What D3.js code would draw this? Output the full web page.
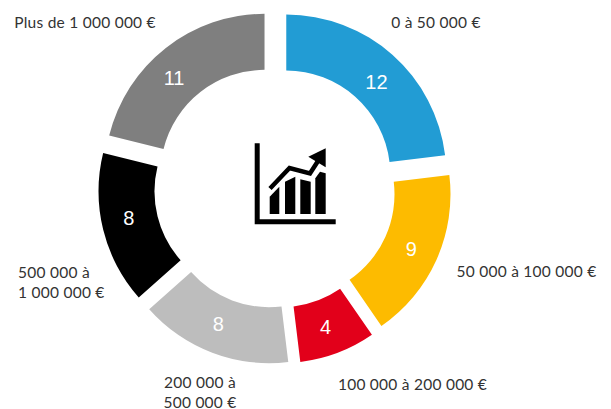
<!DOCTYPE html>
<html><head><meta charset="utf-8">
<script src="https://cdn.jsdelivr.net/npm/d3@7"></script>
<style>html,body{margin:0;padding:0;background:#fff}svg{display:block}</style>
</head><body><svg id="c" width="611" height="409"></svg>
<script>
const categories = ["0 à 50 000 €","50 000 à 100 000 €","100 000 à 200 000 €","200 000 à 500 000 €","500 000 à 1 000 000 €","Plus de 1 000 000 €"];
const counts = [12, 9, 4, 8, 8, 11];
const colors = ["#229cd4","#fdbb00","#e2001a","#bdbdbd","#000000","#7f7f7f"];
const labelLines = [["0 à 50 000 €"],["50 000 à 100 000 €"],["100 000 à 200 000 €"],["200 000 à","500 000 €"],["500 000 à","1 000 000 €"],["Plus de 1 000 000 €"]];

const svg = d3.select("#c");
const cx = 275, cy = 187.25, R = 160, r = 104, explode = 17;
const g = svg.append("g").attr("transform", `translate(${cx},${cy})`);
const pie = d3.pie().sort(null).value(d => d.count);
const arc = d3.arc().innerRadius(r).outerRadius(R);
const arcs = pie(categories.map((c, i) => ({c, count: counts[i], color: colors[i]})));
const mid = d => (d.startAngle + d.endAngle) / 2;
g.selectAll("path").data(arcs).join("path").attr("d", arc).attr("fill", d => d.data.color)
  .attr("transform", d => `translate(${explode*Math.sin(mid(d))},${-explode*Math.cos(mid(d))})`);

const labelShift = [2.1, -0.4, 0.7, 1.9, 2.6, -4.2];
const labelRadius = [147, 149, 147, 147, 149, 150];
g.selectAll("text.v").data(arcs).join("text").attr("class","v")
  .attr("x", (d,i) => labelRadius[i] * Math.sin(mid(d) + labelShift[i]*Math.PI/180))
  .attr("y", (d,i) => 1.25 - labelRadius[i] * Math.cos(mid(d) + labelShift[i]*Math.PI/180))
  .attr("dy","0.35em").attr("text-anchor","middle")
  .attr("font-family","'Liberation Sans',Arial,sans-serif").attr("font-size",20).attr("fill","#fff")
  .text(d => d.data.count);

const labelPos = [[436,23],[526.5,272],[412.5,385],[200,383],[18,273],[85,23]];
const labelAnchor = ["middle","middle","middle","middle","start","middle"];
const lab = svg.append("g").attr("font-family","Lato,sans-serif").attr("font-size",15.5).attr("letter-spacing",0.25).attr("fill","#333");
labelLines.forEach((lines,i) => {
  const t = lab.append("text").attr("x",labelPos[i][0]).attr("y",labelPos[i][1]).attr("text-anchor",labelAnchor[i]);
  lines.forEach((s,j) => t.append("tspan").attr("x",labelPos[i][0]).attr("dy", j? "19.5":"0.35em").text(s));
});

// centre pictogram
const ic = svg.append("g").attr("fill","#000");
ic.append("path").attr("d","M254.7 143.3H259.7V219.3H335.7V224.3H254.7Z");
ic.append("path").attr("d","M269.7 196.7L279.3 186.7V214H269.7Z");
ic.append("path").attr("d","M285 181.7L295.3 176.7V214H285Z");
ic.append("path").attr("d","M300.3 179.3L310.7 181.7V214H300.3Z");
ic.append("path").attr("d","M315.3 178.3L320 171.7L325.7 173.3V214H315.3Z");
ic.append("path").attr("d","M270 188.5L289.5 168L310 173.5L318 161").attr("fill","none").attr("stroke","#000").attr("stroke-width",4.5);
ic.append("path").attr("d","M308.3 156.7L325.7 148.3V167.3Z");
</script></body></html>
